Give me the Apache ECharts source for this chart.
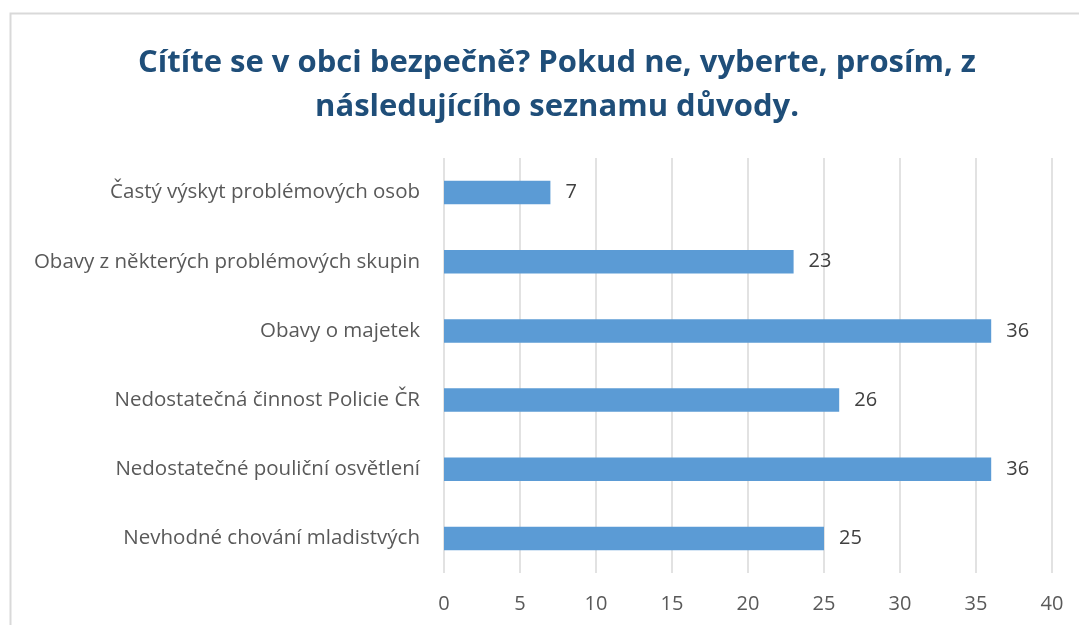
<!DOCTYPE html>
<html><head><meta charset="utf-8">
<script src="https://cdn.jsdelivr.net/npm/echarts@6/dist/echarts.min.js"></script>
<style>html,body{margin:0;padding:0;background:#fff}#c{width:1079px;height:625px}</style>
</head><body><div id="c"></div>
<script>
const categories = ["Nevhodné chování mladistvých","Nedostatečné pouliční osvětlení","Nedostatečná činnost Policie ČR","Obavy o majetek","Obavy z některých problémových skupin","Častý výskyt problémových osob"];
const values = [25,36,26,36,23,7];
const titleText = "Cítíte se v obci bezpečně? Pokud ne, vyberte, prosím, z\nnásledujícího seznamu důvody.";
const chart = echarts.init(document.getElementById('c'));
chart.setOption({
  animation:false,
  graphic:[{type:'rect',shape:{x:10.5,y:13.5,width:1100,height:700},style:{fill:'none',stroke:'#d9d9d9',lineWidth:2},silent:true}],
  title:{text:titleText,left:552,textAlign:'center',top:36,textStyle:{fontFamily:'Open Sans',fontWeight:'bold',fontSize:31,color:'#1F4E79',lineHeight:44}},
  grid:{left:444,right:27,top:158,bottom:52,containLabel:false},
  xAxis:{type:'value',min:0,max:40,interval:5,axisLine:{show:false},axisTick:{show:false},
    splitLine:{lineStyle:{color:'#d9d9d9',width:1.5}},
    axisLabel:{fontFamily:'Open Sans',fontSize:20,color:'#595959',margin:21}},
  yAxis:{type:'category',data:categories,axisLine:{show:false},axisTick:{show:false},
    axisLabel:{fontFamily:'Open Sans',fontSize:20.5,color:'#595959',margin:24}},
  series:[{type:'bar',data:values,barWidth:'34%',itemStyle:{color:'#5B9BD5'},
    label:{show:true,position:'right',distance:15,fontFamily:'Open Sans',fontSize:20,color:'#404040'}}]
});
</script></body></html>
